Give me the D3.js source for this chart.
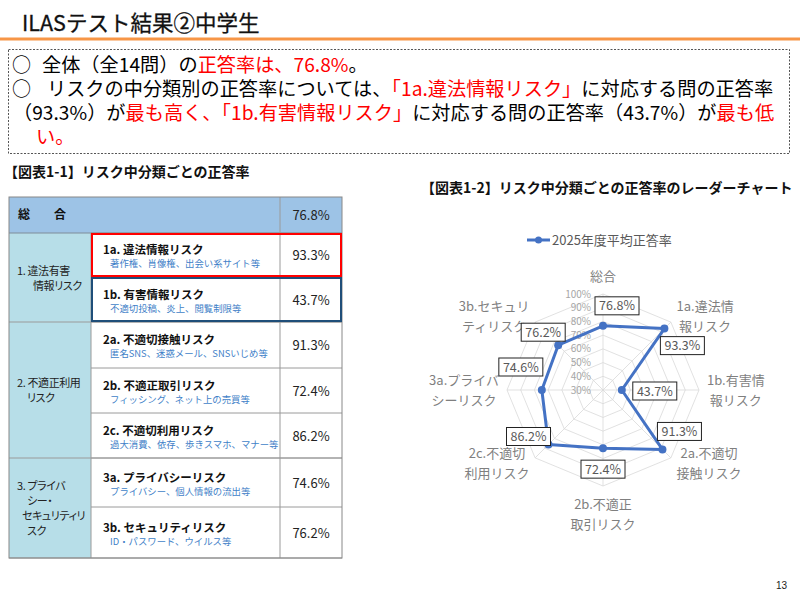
<!DOCTYPE html>
<html><head><meta charset="utf-8">
<script src="https://cdn.jsdelivr.net/npm/d3@7"></script>
<style>
html,body{margin:0;padding:0;background:#fff;}
svg{display:block;font-family:"Noto Sans CJK JP","Noto Sans",sans-serif;}
.palt{font-feature-settings:"palt";}
</style></head>
<body>
<svg id="c" width="800" height="600"></svg>
<script>
// ---------- DATA ----------
const pageTitle = "ILASテスト結果②中学生";
const pageNumber = "13";
const bullet = "○";
const summaryLines = [
  [["全体（全14問）の","#000"],["正答率は、76.8%","#f00"],["。","#000"]],
  [["リスクの中分類別の正答率については、","#000"],["「1a.違法情報リスク」","#f00"],["に対応する問の正答率","#000"]],
  [["（93.3%）が","#000"],["最も高く、「1b.有害情報リスク」","#f00"],["に対応する問の正答率（43.7%）が","#000"],["最も低","#f00"]],
  [["い。","#f00"]]
];
const summaryBullets = [true,true,false,false];
const tableTitle = "【図表1-1】リスク中分類ごとの正答率";
const overallLabel = "総　　合";
const overallValue = 76.8;
const groupLabels = [["1. 違法有害","情報リスク"],["2. 不適正利用","リスク"],["3. プライバ","シー・","セキュリティリ","スク"]];
const groupSpans = [2,3,2];
const itemNames = ["1a. 違法情報リスク","1b. 有害情報リスク","2a. 不適切接触リスク","2b. 不適正取引リスク","2c. 不適切利用リスク","3a. プライバシーリスク","3b. セキュリティリスク"];
const itemNotes = ["著作権、肖像権、出会い系サイト等","不適切投稿、炎上、閲覧制限等","匿名SNS、迷惑メール、SNSいじめ等","フィッシング、ネット上の売買等","過大消費、依存、歩きスマホ、マナー等","プライバシー、個人情報の流出等","ID・パスワード、ウイルス等"];
const itemValues = [93.3,43.7,91.3,72.4,86.2,74.6,76.2];

const radarTitle = "【図表1-2】リスク中分類ごとの正答率のレーダーチャート";
const seriesName = "2025年度平均正答率";
const radarCategories = [["総合"],["1a.違法情","報リスク"],["1b.有害情","報リスク"],["2a.不適切","接触リスク"],["2b.不適正","取引リスク"],["2c.不適切","利用リスク"],["3a.プライバ","シーリスク"],["3b.セキュリ","ティリスク"]];
const radarValues = [76.8,93.3,43.7,91.3,72.4,86.2,74.6,76.2];
const radarTicks = [30,40,50,60,70,80,90,100];

// ---------- LAYOUT ----------
const svg = d3.select("#c");
const fmt = v => v.toFixed(1) + "%";

// title
svg.append("text").attr("x",22).attr("y",31).attr("font-size",21.5).attr("fill","#111")
  .attr("stroke","#111").attr("stroke-width",0.3).text(pageTitle);
svg.append("rect").attr("x",0).attr("y",37.5).attr("width",800).attr("height",3).attr("fill","#F79646");

// summary box
svg.append("rect").attr("x",8.5).attr("y",49.5).attr("width",781).attr("height",104)
  .attr("fill","none").attr("stroke","#555").attr("stroke-dasharray","2,1.5").attr("stroke-width",1);
const lineX = [42,47,13,36];
const lineY = [72,96,120,144];
summaryLines.forEach((segs,i)=>{
  if (summaryBullets[i]) svg.append("text").attr("x",12).attr("y",lineY[i]).attr("font-size",19).text(bullet);
  const t = svg.append("text").attr("x",lineX[i]).attr("y",lineY[i]).attr("font-size",19.2);
  segs.forEach(s=>t.append("tspan").attr("fill",s[1]).text(s[0]));
});

// table
const tX = [9,91,280,342];
const rowH = [44,45,46,45,45,49,51];
const tTop = 197, hdrH = 36;
const rowTops = [];
let yy = tTop + hdrH;
rowH.forEach(h=>{rowTops.push(yy); yy+=h;});
const tBottom = yy;
svg.append("text").attr("x",4).attr("y",177).attr("font-size",14).attr("font-weight","bold").attr("fill","#111").text(tableTitle);
// header
svg.append("rect").attr("x",tX[0]).attr("y",tTop).attr("width",tX[3]-tX[0]).attr("height",hdrH).attr("fill","#9DC3E6");
svg.append("text").attr("x",18).attr("y",tTop+22).attr("font-size",12).attr("font-weight","bold").attr("fill","#111").text(overallLabel);
svg.append("text").attr("x",(tX[2]+tX[3])/2).attr("y",tTop+23).attr("font-size",13).attr("text-anchor","middle").attr("fill","#222").text(fmt(overallValue));
// group column
svg.append("rect").attr("x",tX[0]).attr("y",tTop+hdrH).attr("width",tX[1]-tX[0]).attr("height",tBottom-tTop-hdrH).attr("fill","#B7DEE8");
const groupLineX = [[17,33],[17,27],[17,27,22,27]];
let gi = 0;
groupLabels.forEach((lines,g)=>{
  const y0 = rowTops[gi], y1 = (gi+groupSpans[g] < rowTops.length) ? rowTops[gi+groupSpans[g]] : tBottom;
  const cy = (y0+y1)/2, lh = 15;
  lines.forEach((ln,k)=>{
    svg.append("text").attr("class","palt").attr("x",groupLineX[g][k]).attr("y",cy + (k-(lines.length-1)/2)*lh + 4.5)
      .attr("font-size",11).attr("letter-spacing",-0.4).attr("fill","#222").text(ln);
  });
  svg.append("line").attr("x1",tX[0]).attr("x2",tX[3]).attr("y1",y1).attr("y2",y1).attr("stroke","#9a9a9a");
  gi += groupSpans[g];
});
// items
itemNames.forEach((nm,i)=>{
  const y0 = rowTops[i], h = rowH[i], cy = y0+h/2;
  svg.append("line").attr("x1",tX[1]).attr("x2",tX[3]).attr("y1",y0).attr("y2",y0).attr("stroke","#9a9a9a");
  svg.append("text").attr("x",103).attr("y",cy-1).attr("font-size",11.5).attr("font-weight","bold").attr("fill","#111").text(nm);
  svg.append("text").attr("x",110).attr("y",cy+12).attr("font-size",9.4).attr("fill","#3F7FC8").text(itemNotes[i]);
  svg.append("text").attr("x",(tX[2]+tX[3])/2).attr("y",cy+5).attr("font-size",13).attr("text-anchor","middle").attr("fill","#222").text(fmt(itemValues[i]));
});
// grid lines
svg.append("line").attr("x1",tX[0]).attr("x2",tX[3]).attr("y1",tTop+hdrH).attr("y2",tTop+hdrH).attr("stroke","#7f8c99");
[1,2].forEach(k=>{
  svg.append("line").attr("x1",tX[k]).attr("x2",tX[k]).attr("y1",k===1?tTop+hdrH:tTop).attr("y2",tBottom).attr("stroke","#9a9a9a");
});
svg.append("rect").attr("x",tX[0]).attr("y",tTop).attr("width",tX[3]-tX[0]).attr("height",tBottom-tTop).attr("fill","none").attr("stroke","#888");
// highlight boxes
svg.append("rect").attr("x",tX[1]+1).attr("y",rowTops[0]+1).attr("width",tX[3]-tX[1]-2).attr("height",rowH[0]-2).attr("fill","none").attr("stroke","#FF0000").attr("stroke-width",2);
svg.append("rect").attr("x",tX[1]+1).attr("y",rowTops[1]+1).attr("width",tX[3]-tX[1]-2).attr("height",rowH[1]-2).attr("fill","none").attr("stroke","#1F4E79").attr("stroke-width",2);

// radar
svg.append("text").attr("x",421).attr("y",193).attr("font-size",14).attr("font-weight","bold").attr("fill","#111").text(radarTitle);
const cx = 603, cy = 390, R = 96;
const r = d3.scaleLinear().domain([30,100]).range([0,R]);
const n = radarCategories.length;
const ang = i => i*2*Math.PI/n;
const pt = (i,rad) => [cx + rad*Math.sin(ang(i)), cy - rad*Math.cos(ang(i))];
const g = svg.append("g");
radarTicks.slice(1).forEach(t=>{
  const pts = d3.range(n).map(i=>pt(i,r(t)));
  g.append("polygon").attr("points",pts.map(p=>p.join(",")).join(" ")).attr("fill","none").attr("stroke","#d9d9d9").attr("stroke-width",0.8);
});
d3.range(n).forEach(i=>{
  const p = pt(i,R);
  g.append("line").attr("x1",cx).attr("y1",cy).attr("x2",p[0]).attr("y2",p[1]).attr("stroke","#d9d9d9").attr("stroke-width",0.8);
});
radarTicks.forEach(t=>{
  g.append("text").attr("x",cx-12).attr("y",cy-r(t)+3.5).attr("text-anchor","end").attr("font-size",10).attr("fill","#a6a6a6").text(t+"%");
});
// category labels
radarCategories.forEach((lines,i)=>{
  const a = pt(i,R+8);
  const s = Math.sin(ang(i)), c = Math.cos(ang(i));
  const lh = 20, fs = 13;
  const tg = g.append("g");
  const texts = lines.map((ln,k)=>tg.append("text").attr("font-size",fs).attr("fill","#7f7f7f").attr("text-anchor","middle").text(ln));
  const w = d3.max(texts, t=>t.node().getComputedTextLength());
  const hTot = lines.length*lh;
  let bx, by;
  if (Math.abs(s) < 1e-6) bx = a[0]-w/2; else if (s>0) bx = a[0]; else bx = a[0]-w;
  if (Math.abs(s) < 1e-6) by = c>0 ? a[1]-hTot : a[1]; else by = a[1]-hTot/2;
  texts.forEach((t,k)=>t.attr("x",bx+w/2).attr("y",by + k*lh + lh/2 + 4.5));
});
// series
const linePts = radarValues.map((v,i)=>pt(i,r(v)));
g.append("path").attr("d",d3.line().curve(d3.curveLinearClosed)(linePts)).attr("fill","none").attr("stroke","#4472C4").attr("stroke-width",3).attr("stroke-linejoin","round");
linePts.forEach(p=>g.append("circle").attr("cx",p[0]).attr("cy",p[1]).attr("r",4).attr("fill","#4472C4"));
// data labels
const labelOff = [[14,-20],[18,17],[33,1],[17,-18],[0,21],[-20,-8],[-21,-23],[-15,-13]];
radarValues.forEach((v,i)=>{
  const p = linePts[i];
  const lx = p[0]+labelOff[i][0], ly = p[1]+labelOff[i][1];
  const bw = 44, bh = 18;
  g.append("rect").attr("x",lx-bw/2).attr("y",ly-bh/2).attr("width",bw).attr("height",bh).attr("fill","#fff").attr("stroke","#222").attr("stroke-width",1);
  g.append("text").attr("x",lx).attr("y",ly+4.5).attr("text-anchor","middle").attr("font-size",12.5).attr("fill","#595959").text(fmt(v));
});
// legend
svg.append("line").attr("x1",527).attr("x2",550).attr("y1",240).attr("y2",240).attr("stroke","#4472C4").attr("stroke-width",3);
svg.append("circle").attr("cx",538.5).attr("cy",240).attr("r",3.5).attr("fill","#4472C4");
svg.append("text").attr("x",552).attr("y",245).attr("font-size",13).attr("fill","#595959").text(seriesName);

// page number
svg.append("text").attr("x",787).attr("y",589).attr("text-anchor","end").attr("font-size",10).attr("font-family","Liberation Sans, Arial").attr("fill","#222").text(pageNumber);
</script>
</body></html>
